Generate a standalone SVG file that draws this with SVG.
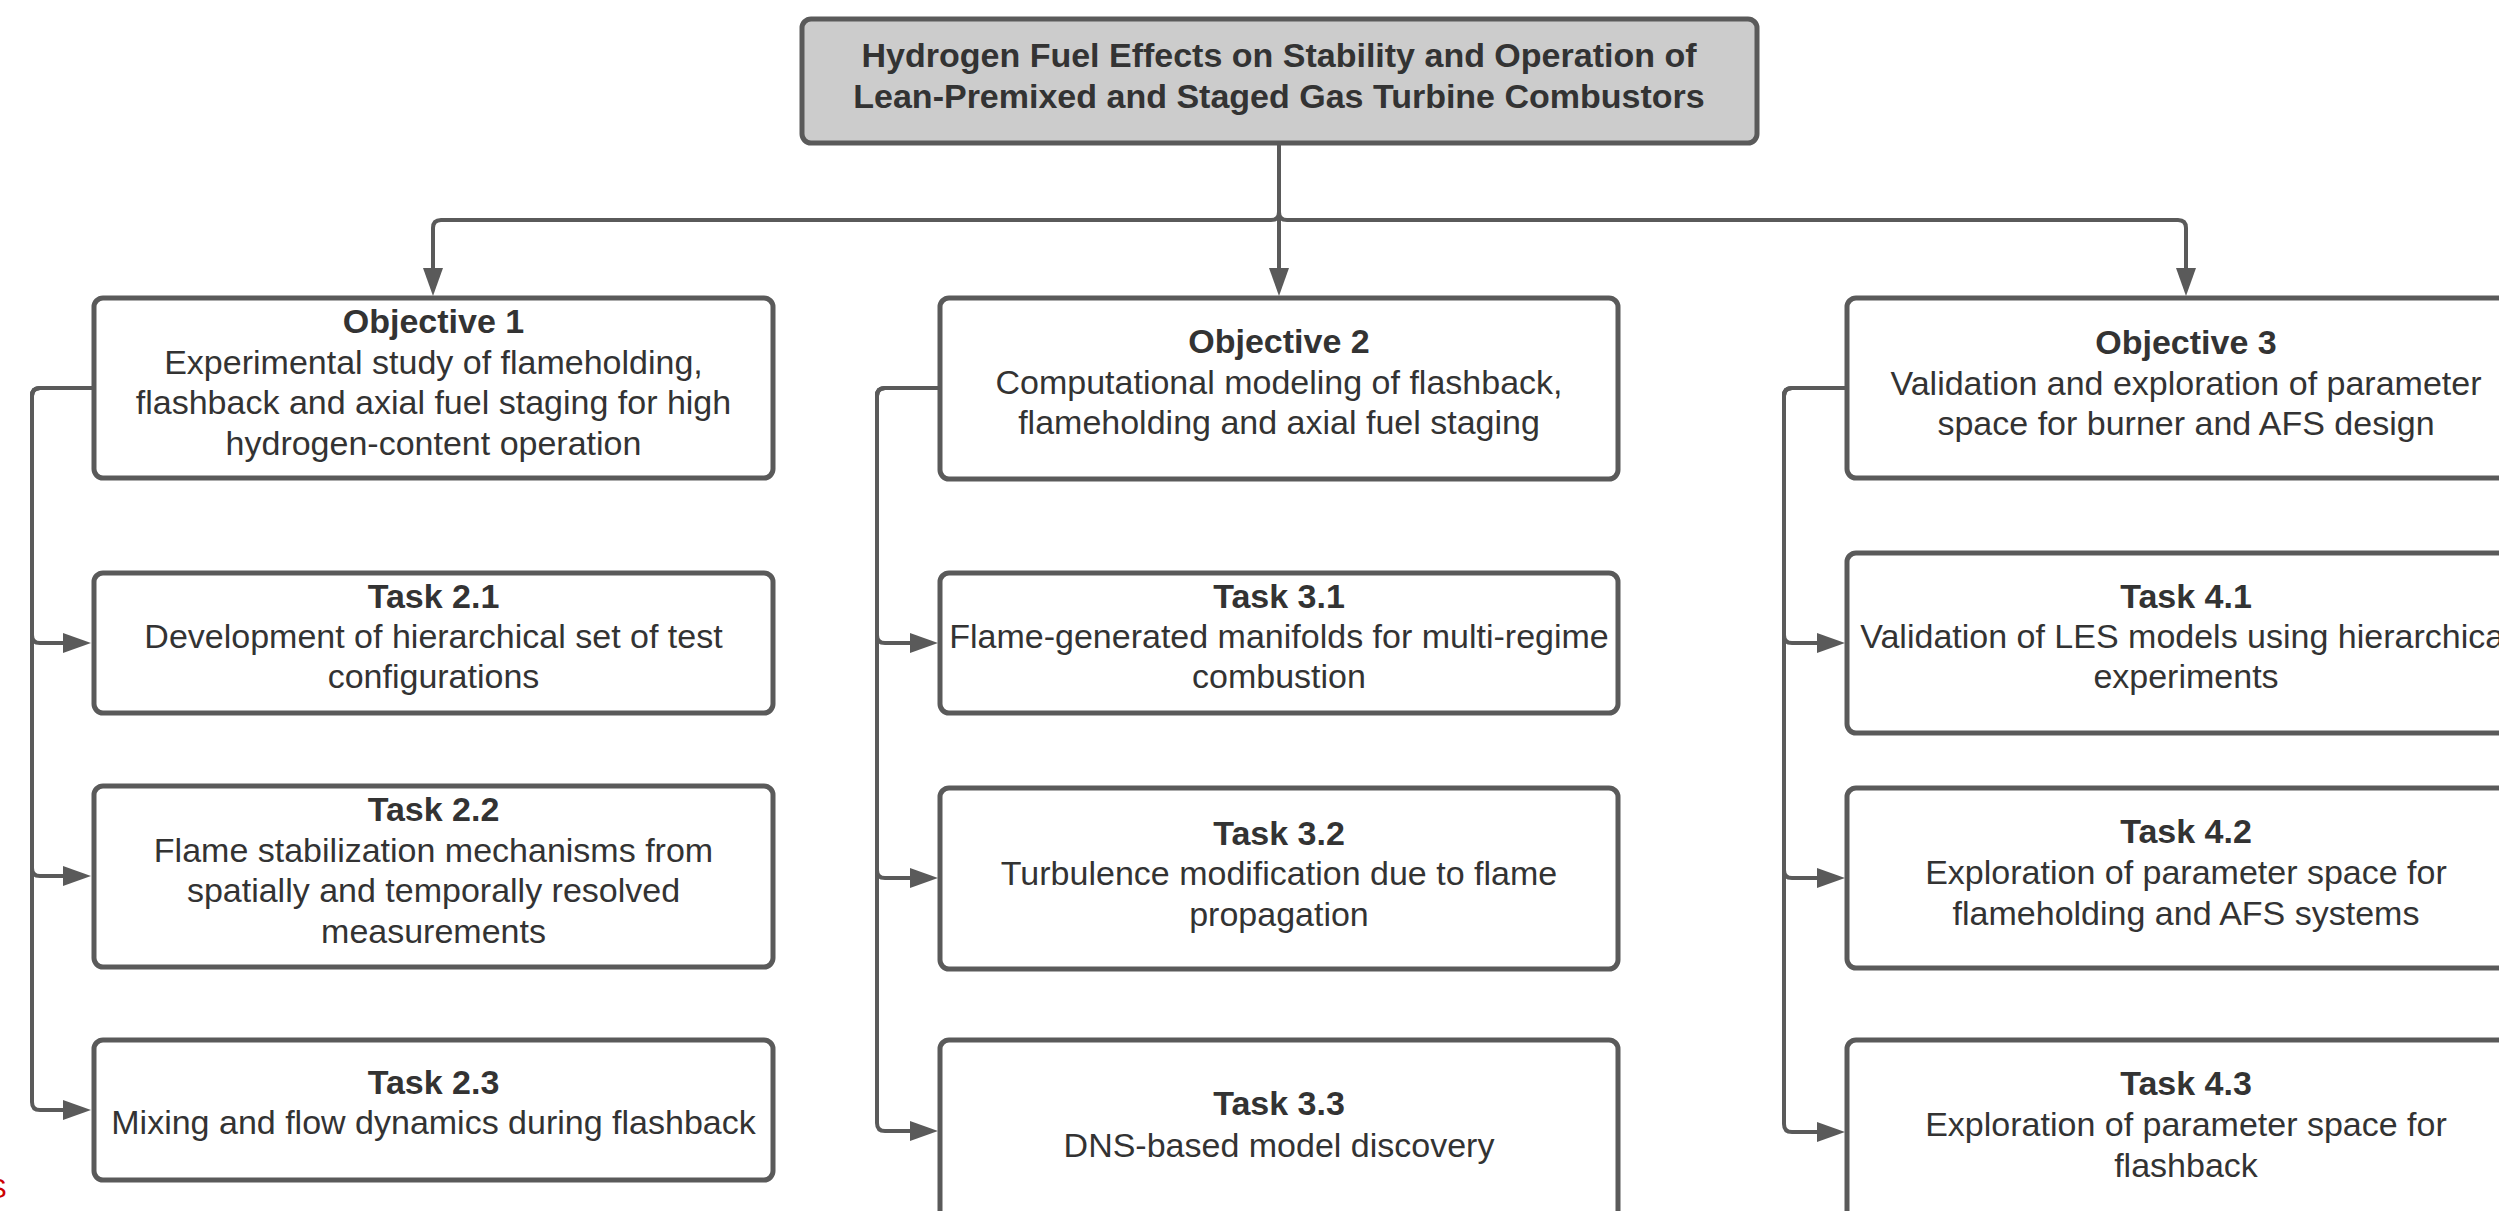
<svg xmlns="http://www.w3.org/2000/svg" width="2499" height="1211" viewBox="0 0 2499 1211">
<style>
  .box{fill:#ffffff;stroke:#5a5a5a;stroke-width:5}
  .root{fill:#cccccc;stroke:#5a5a5a;stroke-width:5}
  .t{font-family:"Liberation Sans",Arial,sans-serif;font-size:34px;fill:#333333;text-anchor:middle}
  .b{font-weight:bold}
  .c{fill:none;stroke:#5a5a5a;stroke-width:4;marker-end:url(#ah)}
</style>
<defs>
  <marker id="ah" viewBox="0 0 28 20" refX="8" refY="10" markerWidth="28" markerHeight="20" markerUnits="userSpaceOnUse" orient="auto">
    <path d="M0,0 L28,10 L0,20 Z" fill="#5a5a5a"/>
  </marker>
</defs>
<rect width="2499" height="1211" fill="#ffffff"/>

<g id="connectors">
  <path class="c" d="M1279,143 V276"/>
  <path class="c" d="M1279,143 V212 Q1279,220 1271,220 H441 Q433,220 433,228 V276"/>
  <path class="c" d="M1279,143 V212 Q1279,220 1287,220 H2178 Q2186,220 2186,228 V276"/>

  <path class="c" d="M93,388 H40 Q32,388 32,396 V635 Q32,643 40,643 H71"/>
  <path class="c" d="M93,388 H40 Q32,388 32,396 V868 Q32,876 40,876 H71"/>
  <path class="c" d="M93,388 H40 Q32,388 32,396 V1102 Q32,1110 40,1110 H71"/>

  <path class="c" d="M939,388 H885 Q877,388 877,396 V635 Q877,643 885,643 H918"/>
  <path class="c" d="M939,388 H885 Q877,388 877,396 V870 Q877,878 885,878 H918"/>
  <path class="c" d="M939,388 H885 Q877,388 877,396 V1123 Q877,1131 885,1131 H918"/>

  <path class="c" d="M1846,388 H1792 Q1784,388 1784,396 V635 Q1784,643 1792,643 H1825"/>
  <path class="c" d="M1846,388 H1792 Q1784,388 1784,396 V870 Q1784,878 1792,878 H1825"/>
  <path class="c" d="M1846,388 H1792 Q1784,388 1784,396 V1124 Q1784,1132 1792,1132 H1825"/>
</g>

<g id="root">
  <rect class="root" x="802" y="19" width="955" height="124" rx="9"/>
  <text class="t b" x="1279" y="67">Hydrogen Fuel Effects on Stability and Operation of</text>
  <text class="t b" x="1279" y="108">Lean-Premixed and Staged Gas Turbine Combustors</text>
</g>

<g id="objective1">
  <rect class="box" x="94" y="298" width="679" height="180" rx="9"/>
  <text class="t b" x="433.5" y="333">Objective 1</text>
  <text class="t" x="433.5" y="374">Experimental study of flameholding,</text>
  <text class="t" x="433.5" y="414">flashback and axial fuel staging for high</text>
  <text class="t" x="433.5" y="455">hydrogen-content operation</text>
</g>
<g id="task21">
  <rect class="box" x="94" y="573" width="679" height="140" rx="9"/>
  <text class="t b" x="433.5" y="608">Task 2.1</text>
  <text class="t" x="433.5" y="648">Development of hierarchical set of test</text>
  <text class="t" x="433.5" y="688">configurations</text>
</g>
<g id="task22">
  <rect class="box" x="94" y="786" width="679" height="181" rx="9"/>
  <text class="t b" x="433.5" y="821">Task 2.2</text>
  <text class="t" x="433.5" y="862">Flame stabilization mechanisms from</text>
  <text class="t" x="433.5" y="902">spatially and temporally resolved</text>
  <text class="t" x="433.5" y="943">measurements</text>
</g>
<g id="task23">
  <rect class="box" x="94" y="1040" width="679" height="140" rx="9"/>
  <text class="t b" x="433.5" y="1094">Task 2.3</text>
  <text class="t" x="433.5" y="1134">Mixing and flow dynamics during flashback</text>
</g>

<g id="objective2">
  <rect class="box" x="940" y="298" width="678" height="181" rx="9"/>
  <text class="t b" x="1279" y="353">Objective 2</text>
  <text class="t" x="1279" y="394">Computational modeling of flashback,</text>
  <text class="t" x="1279" y="434">flameholding and axial fuel staging</text>
</g>
<g id="task31">
  <rect class="box" x="940" y="573" width="678" height="140" rx="9"/>
  <text class="t b" x="1279" y="608">Task 3.1</text>
  <text class="t" x="1279" y="648">Flame-generated manifolds for multi-regime</text>
  <text class="t" x="1279" y="688">combustion</text>
</g>
<g id="task32">
  <rect class="box" x="940" y="788" width="678" height="181" rx="9"/>
  <text class="t b" x="1279" y="845">Task 3.2</text>
  <text class="t" x="1279" y="885">Turbulence modification due to flame</text>
  <text class="t" x="1279" y="926">propagation</text>
</g>
<g id="task33">
  <rect class="box" x="940" y="1040" width="678" height="182" rx="9"/>
  <text class="t b" x="1279" y="1115">Task 3.3</text>
  <text class="t" x="1279" y="1157">DNS-based model discovery</text>
</g>

<g id="objective3">
  <rect class="box" x="1847" y="298" width="679" height="180" rx="9"/>
  <text class="t b" x="2186" y="354">Objective 3</text>
  <text class="t" x="2186" y="395">Validation and exploration of parameter</text>
  <text class="t" x="2186" y="435">space for burner and AFS design</text>
</g>
<g id="task41">
  <rect class="box" x="1847" y="553" width="679" height="180" rx="9"/>
  <text class="t b" x="2186" y="608">Task 4.1</text>
  <text class="t" x="2186" y="648">Validation of LES models using hierarchical</text>
  <text class="t" x="2186" y="688">experiments</text>
</g>
<g id="task42">
  <rect class="box" x="1847" y="788" width="679" height="180" rx="9"/>
  <text class="t b" x="2186" y="843">Task 4.2</text>
  <text class="t" x="2186" y="884">Exploration of parameter space for</text>
  <text class="t" x="2186" y="925">flameholding and AFS systems</text>
</g>
<g id="task43">
  <rect class="box" x="1847" y="1040" width="679" height="185" rx="9"/>
  <text class="t b" x="2186" y="1095">Task 4.3</text>
  <text class="t" x="2186" y="1136">Exploration of parameter space for</text>
  <text class="t" x="2186" y="1177">flashback</text>
</g>

<text x="-12" y="1198" style="font-family:'Liberation Sans',Arial,sans-serif;font-size:28px;fill:#cc0000">S</text>
</svg>
